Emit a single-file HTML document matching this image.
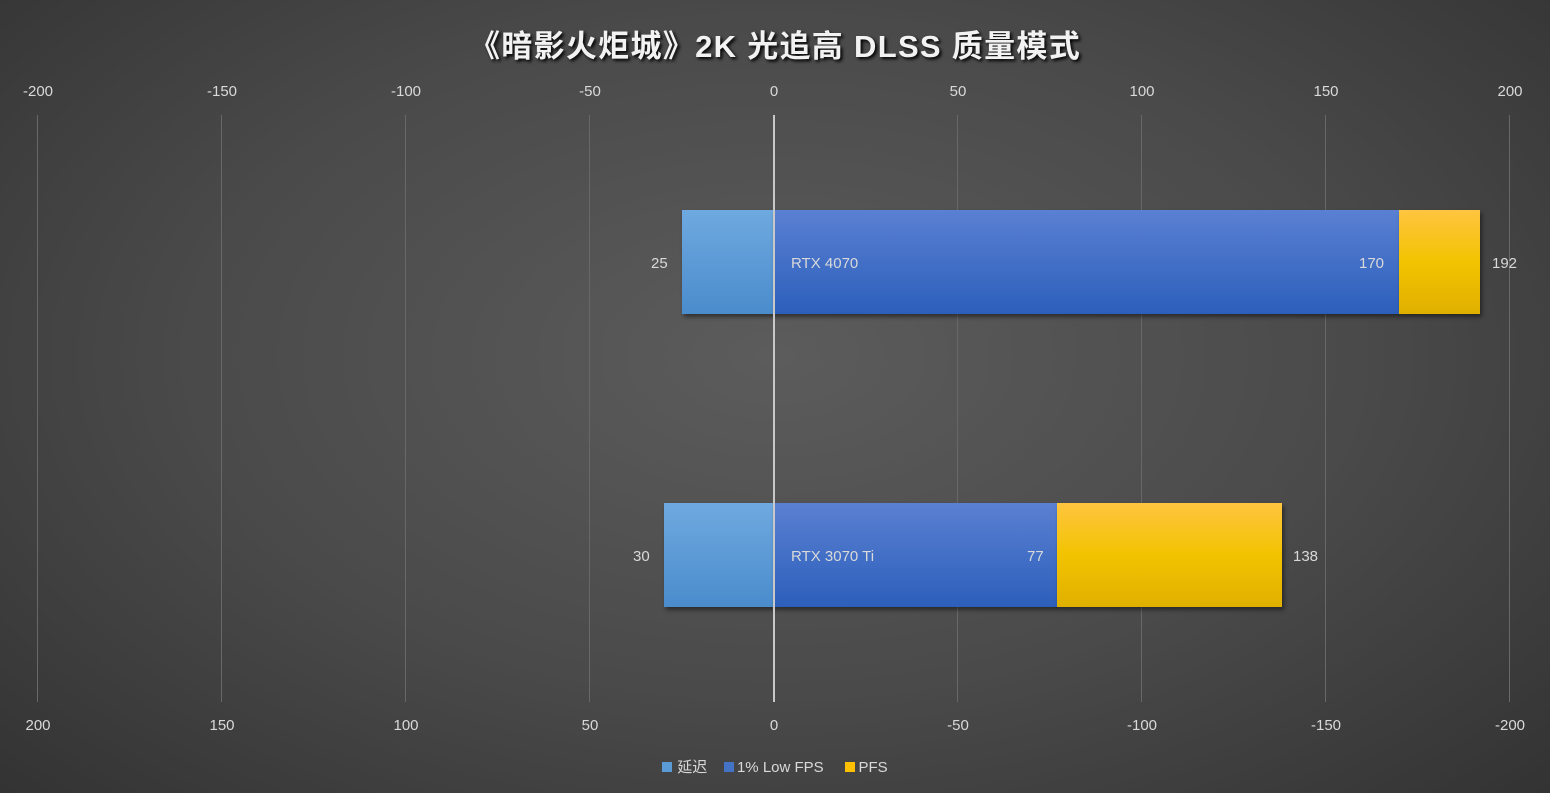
<!DOCTYPE html>
<html><head><meta charset="utf-8"><style>
*{margin:0;padding:0;box-sizing:border-box}
body{width:1550px;height:793px;overflow:hidden;position:relative;background:radial-gradient(ellipse 75% 85% at 50% 45%,#5c5c5c 0%,#4a4a4a 50%,#2f2f2f 100%);font-family:"Liberation Sans","Noto Sans CJK SC",sans-serif;color:#d9d9d9}
.t{position:absolute;font-size:15px;transform:translateX(-50%);white-space:nowrap}
.g{position:absolute;top:115px;height:587px;width:1px;background:#686868}
.bar{position:absolute;box-shadow:2px 3px 4px rgba(0,0,0,.45)}
.lb{background:linear-gradient(#6fa9e0,#4a8ccc)}
.db{background:linear-gradient(#5a80d2,#2c5fbb)}
.yb{background:linear-gradient(#ffc540,#f2c300 50%,#e0b000)}
.v{position:absolute;font-size:15px;color:#d9d9d9}
</style></head><body>
<div style="position:absolute;top:21px;left:0;width:1550px;text-align:center;font-size:31px;font-weight:bold;color:#f2f2f2;text-shadow:2px 2px 3px #000;letter-spacing:1.3px">《暗影火炬城》2K 光追高 DLSS 质量模式</div>
<div id="ax"></div>
<div class="bar lb" style="left:682px;top:210px;width:91px;height:104px"></div>
<div class="bar db" style="left:773px;top:210px;width:626px;height:104px"></div>
<div class="bar yb" style="left:1399px;top:210px;width:81px;height:104px"></div>
<div class="bar lb" style="left:664px;top:503px;width:109px;height:104px"></div>
<div class="bar db" style="left:773px;top:503px;width:284px;height:104px"></div>
<div class="bar yb" style="left:1057px;top:503px;width:225px;height:104px"></div>
<div style="position:absolute;left:773px;top:115px;width:2px;height:587px;background:#c8c8c8"></div>
<div class="v" style="left:651px;top:255px">25</div>
<div class="v" style="left:791px;top:255px">RTX 4070</div>
<div class="v" style="left:1359px;top:255px">170</div>
<div class="v" style="left:1492px;top:255px">192</div>
<div class="v" style="left:633px;top:548px">30</div>
<div class="v" style="left:791px;top:548px">RTX 3070 Ti</div>
<div class="v" style="left:1027px;top:548px">77</div>
<div class="v" style="left:1293px;top:548px">138</div>
<div style="position:absolute;top:756px;left:0;width:1550px;text-align:center;font-size:15px;color:#d9d9d9">
<span style="display:inline-block;width:10px;height:10px;background:#5b9bd5;margin-right:5px"></span>延迟&nbsp;&nbsp;&nbsp;
<span style="display:inline-block;width:10px;height:10px;background:#4472c4;margin-right:3px"></span>1% Low FPS&nbsp;&nbsp;&nbsp;&nbsp;
<span style="display:inline-block;width:10px;height:10px;background:#ffc000;margin-right:4px"></span>PFS</div>
<script>
var ax=document.getElementById('ax'),h='';
for(var i=0;i<9;i++){var x=37+i*184,v=-200+i*50;
if(v!==0)h+='<div class="g" style="left:'+x+'px"></div>';
h+='<div class="t" style="left:'+(x+1)+'px;top:83px">'+v+'</div>';
h+='<div class="t" style="left:'+(x+1)+'px;top:717px">'+(-v)+'</div>';}
ax.innerHTML=h;
</script>
</body></html>
